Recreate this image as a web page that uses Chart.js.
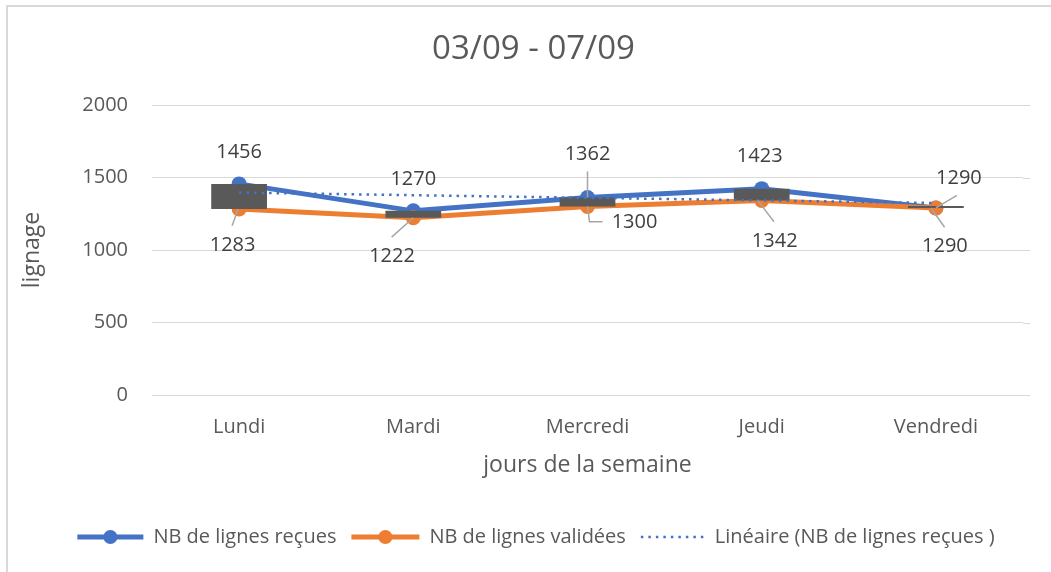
<!DOCTYPE html>
<html><head><meta charset="utf-8">
<script src="https://cdn.jsdelivr.net/npm/chart.js@4.4.0/dist/chart.umd.min.js"></script>
<style>html,body{margin:0;padding:0;background:#fff;overflow:hidden}canvas{display:block}</style>
</head><body>
<canvas id="c" width="1051" height="572"></canvas>
<script>
// ---- data ----
const categories = ['Lundi', 'Mardi', 'Mercredi', 'Jeudi', 'Vendredi'];
const lignesRecues = [1456, 1270, 1362, 1423, 1290];
const lignesValidees = [1283, 1222, 1300, 1342, 1290];
const tendanceRecues = [1396, null, null, null, 1324]; // linear trend endpoints (read)
const yTickValues = [0, 500, 1000, 1500, 2000];
const chartTitle = '03/09 - 07/09';
const xTitle = 'jours de la semaine';
const yTitle = 'lignage';
const legendLabels = ['NB de lignes reçues', 'NB de lignes validées', 'Linéaire (NB de lignes reçues )'];

// up/down bars built from the two series
const upDownBars = categories.map((_, i) => [Math.min(lignesRecues[i], lignesValidees[i]), Math.max(lignesRecues[i], lignesValidees[i])]);

const FONT = "'Open Sans', 'Noto Sans', sans-serif";
const BLUE = '#4472C4', ORANGE = '#ED7D31', GREY_TXT = '#595959', GRID = '#D9D9D9';

// label placement (styles/positions only)
const labelLayout = [
  {ds: 0, i: 0, dx: 0, dy: -31.5},
  {ds: 0, i: 1, dx: 0, dy: -32},
  {ds: 0, i: 2, dx: 0, dy: -43.5, leader: [[0, -26], [0, 0]]},
  {ds: 0, i: 3, dx: -2, dy: -32},
  {ds: 0, i: 4, dx: 23, dy: -30, leader: [[0, 0], [21, -12.5]]},
  {ds: 1, i: 0, dx: -6.5, dy: 36, leader: [[-1, 0], [-7, 16.7]]},
  {ds: 1, i: 1, dx: -21.3, dy: 38, leader: [[0, 0], [-21.7, 19.3]]},
  {ds: 1, i: 2, dx: 47, dy: 16, leader: [[0, 0], [2, 15.2], [15, 15.2]]},
  {ds: 1, i: 3, dx: 13, dy: 40.6, leader: [[-4, 0], [12.3, 21.3]]},
  {ds: 1, i: 4, dx: 9, dy: 38, leader: [[-5, 0], [8.7, 19.3]]}
];

const borderPlugin = {
  id: 'frame',
  beforeDraw(chart) {
    const ctx = chart.ctx;
    ctx.save();
    ctx.strokeStyle = GRID; ctx.lineWidth = 2;
    ctx.strokeRect(7, 6, 2000, 2000);
    ctx.restore();
  },
  beforeDatasetsDraw(chart) {
    const ctx = chart.ctx, y = chart.scales.y, a = chart.chartArea;
    ctx.save();
    ctx.strokeStyle = GRID; ctx.lineWidth = 1;
    y.ticks.forEach(t => {
      const py = Math.round(y.getPixelForValue(t.value)) + 0.5;
      ctx.beginPath(); ctx.moveTo(a.right, py); ctx.lineTo(a.right + 7, py); ctx.stroke();
    });
    ctx.restore();
  }
};

const labelPlugin = {
  id: 'dataLabels',
  afterDatasetsDraw(chart) {
    const ctx = chart.ctx;
    ctx.save();
    ctx.strokeStyle = '#A6A6A6'; ctx.lineWidth = 1.5;
    labelLayout.forEach(l => {
      if (!l.leader) return;
      const p = chart.getDatasetMeta(l.ds).data[l.i];
      ctx.beginPath();
      l.leader.forEach((pt, k) => { const fn = k ? 'lineTo' : 'moveTo'; ctx[fn](p.x + pt[0], p.y + pt[1]); });
      ctx.stroke();
    });
    ctx.fillStyle = '#404040';
    ctx.font = '20px ' + FONT;
    ctx.textAlign = 'center'; ctx.textBaseline = 'middle';
    labelLayout.forEach(l => {
      const p = chart.getDatasetMeta(l.ds).data[l.i];
      const v = chart.data.datasets[l.ds].data[l.i];
      ctx.fillText(String(v), p.x + l.dx, p.y + l.dy);
    });
    ctx.restore();
  }
};

const legendPlugin = {
  id: 'customLegend',
  afterDraw(chart) {
    const ctx = chart.ctx;
    const y = 537;
    const symW = [66, 68, 64], gapText = 10, gapItem = 15;
    ctx.save();
    ctx.font = '20px ' + FONT;
    const widths = legendLabels.map(t => ctx.measureText(t).width);
    let total = 0;
    widths.forEach((w, k) => { total += symW[k] + gapText + w; });
    total += gapItem * (legendLabels.length - 1);
    let x = 536 - total / 2;
    const colors = [BLUE, ORANGE, BLUE];
    legendLabels.forEach((t, k) => {
      ctx.strokeStyle = colors[k];
      if (k < 2) {
        ctx.lineWidth = 5; ctx.setLineDash([]);
        ctx.beginPath(); ctx.moveTo(x, y); ctx.lineTo(x + symW[k], y); ctx.stroke();
        ctx.fillStyle = colors[k];
        ctx.beginPath(); ctx.arc(x + symW[k] / 2, y, 7, 0, Math.PI * 2); ctx.fill();
      } else {
        ctx.lineWidth = 2.5; ctx.setLineDash([2.5, 5]);
        ctx.beginPath(); ctx.moveTo(x, y); ctx.lineTo(x + symW[k], y); ctx.stroke();
        ctx.setLineDash([]);
      }
      x += symW[k] + gapText;
      ctx.fillStyle = GREY_TXT; ctx.textAlign = 'left'; ctx.textBaseline = 'middle';
      ctx.fillText(t, x, y);
      x += widths[k] + gapItem;
    });
    ctx.restore();
  }
};

new Chart(document.getElementById('c'), {
  data: {
    labels: categories,
    datasets: [
      {type: 'line', label: legendLabels[0], data: lignesRecues, borderColor: BLUE, backgroundColor: BLUE,
       borderWidth: 5, pointRadius: 7.5, pointBackgroundColor: BLUE, pointBorderWidth: 0, tension: 0, order: 4},
      {type: 'line', label: legendLabels[1], data: lignesValidees, borderColor: ORANGE, backgroundColor: ORANGE,
       borderWidth: 5, pointRadius: 7.5, pointBackgroundColor: ORANGE, pointBorderWidth: 0, tension: 0, order: 3},
      {type: 'bar', label: 'up/down', data: upDownBars, backgroundColor: '#595959', borderWidth: 0,
       barPercentage: 0.32, categoryPercentage: 1, minBarLength: 2, order: 2},
      {type: 'line', label: legendLabels[2], data: tendanceRecues, spanGaps: true, borderColor: BLUE,
       borderWidth: 2.5, borderDash: [2.5, 5], pointRadius: 0, tension: 0, order: 1}
    ]
  },
  options: {
    responsive: false,
    animation: false,
    events: [],
    layout: {padding: {left: 16, right: 0, top: 0, bottom: 93}},
    plugins: {
      legend: {display: false},
      tooltip: {enabled: false},
      title: {display: true, text: chartTitle, color: GREY_TXT,
        font: {family: FONT, size: 33, weight: 'normal'}, padding: {top: 30, bottom: 35.4}}
    },
    scales: {
      x: {
        offset: true,
        grid: {display: false, drawTicks: false},
        border: {display: false},
        ticks: {padding: 20, color: GREY_TXT, font: {family: FONT, size: 20}},
        title: {display: true, text: xTitle, color: GREY_TXT, font: {family: FONT, size: 23}, padding: {top: 12, bottom: 0}},
        afterFit: s => { s.height = 84; }
      },
      y: {
        min: 0, max: 2000,
        afterBuildTicks: s => { s.ticks = yTickValues.map(v => ({value: v})); },
        grid: {color: GRID, lineWidth: 1, drawTicks: false},
        border: {display: false},
        ticks: {padding: 24, color: GREY_TXT, font: {family: FONT, size: 20}, callback: v => String(v)},
        title: {display: true, text: yTitle, color: GREY_TXT, font: {family: FONT, size: 23}, padding: {top: 3, bottom: 0}},
        afterFit: s => { s.width = 136; }
      },
      yRight: {
        type: 'linear', position: 'right', display: true,
        grid: {display: false, drawTicks: false}, border: {display: false},
        ticks: {display: false},
        afterFit: s => { s.width = 28; }
      }
    }
  },
  plugins: [borderPlugin, labelPlugin, legendPlugin]
});
</script>
</body></html>
